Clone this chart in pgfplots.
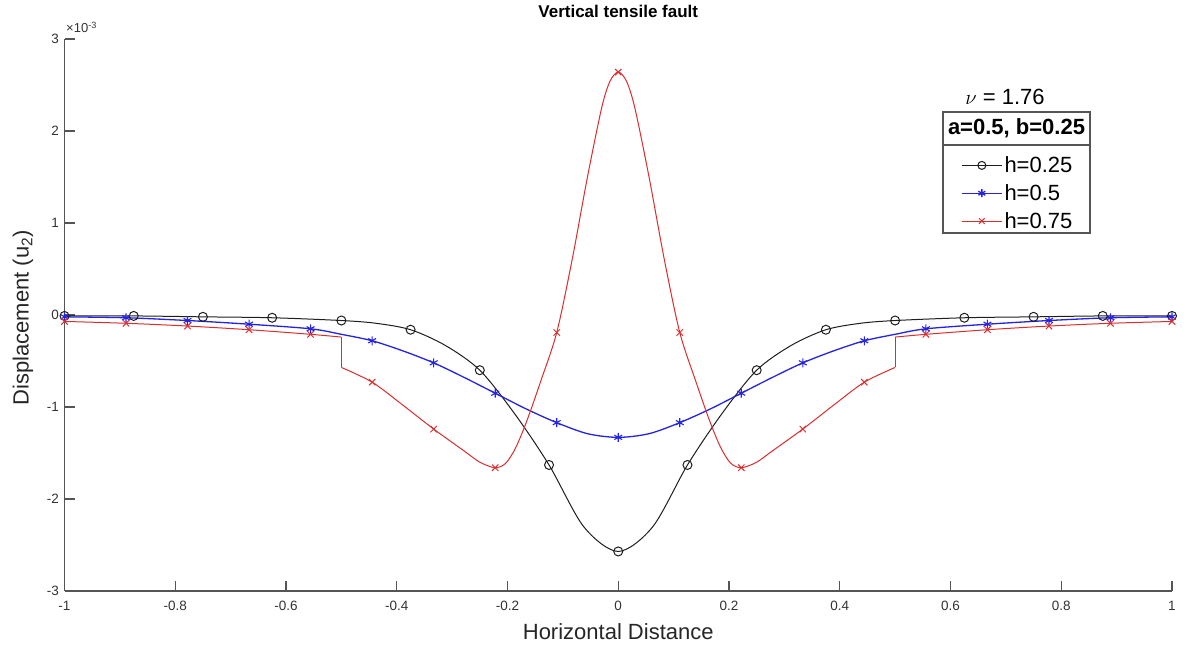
\documentclass[border=0pt]{standalone}
\usepackage{pgfplots}
\pgfplotsset{compat=1.18}
\usepackage{fontspec}
\setmainfont{Liberation Sans}
\definecolor{mred}{RGB}{218,45,45}
\definecolor{mblue}{RGB}{35,35,225}
\definecolor{axgray}{RGB}{85,85,85}
\definecolor{mblack}{RGB}{30,30,30}

\begin{document}
\begin{tikzpicture}
\useasboundingbox (0,0) rectangle (1185pt,646pt);
\begin{axis}[
  at={(64.5pt,55pt)}, anchor=south west,
  scale only axis, width=1107.5pt, height=552pt,
  xmin=-1, xmax=1, ymin=-3, ymax=3,
  axis lines=left,
  axis line style={-, draw=axgray, line width=1.8pt},
  tick align=inside, major tick length=10pt,
  tick style={draw=axgray, line width=1.3pt},
  xtick={-1,-0.8,-0.6,-0.4,-0.2,0,0.2,0.4,0.6,0.8,1},
  xticklabels={-1,-0.8,-0.6,-0.4,-0.2,0,0.2,0.4,0.6,0.8,1},
  ytick={-3,-2,-1,0,1,2,3},
  yticklabels={-3,-2,-1,0,1,2,3},
  /pgf/number format/assume math mode=true,
  ticklabel style={font=\fontsize{13.5}{15}\selectfont, text=black!80},
  xticklabel style={yshift=-7pt},
  yticklabel style={xshift=-2pt},
  xlabel={Horizontal Distance},
  ylabel={Displacement (u\textsubscript{2})},
  x label style={at={(axis description cs:0.5,-0.0743)}, anchor=center, font=\fontsize{22}{24}\selectfont, text=black!85},
  y label style={at={(axis description cs:-0.0375,0.4946)}, anchor=center, font=\fontsize{22}{24}\selectfont, text=black!85},
  title={Vertical tensile fault},
  title style={at={(axis description cs:0.5,1.0399)}, anchor=center, font=\bfseries\fontsize{17}{18}\selectfont},
  legend image code/.code={\draw[mark repeat=2,mark phase=2,#1] plot coordinates {(0pt,0pt)(20pt,0pt)(40pt,0pt)};},
  legend style={draw=none, fill=none, at={(axis description cs:0.8095,0.7908)}, anchor=north west,
    font=\fontsize{22}{24}\selectfont, inner xsep=0pt, inner ysep=0pt, row sep=6.4pt,
    cells={anchor=west}},
]
\addlegendimage{mblack, line width=1pt, mark=o, mark size=4pt, mark options={line width=1pt}}
\addlegendentry{h=0.25}
\addlegendimage{mblue, line width=1.3pt, mark=asterisk, mark size=4pt}
\addlegendentry{h=0.5}
\addlegendimage{mred, line width=1pt, mark=x, mark size=4pt}
\addlegendentry{h=0.75}

% h = 0.25 (black)
\addplot[mblack, line width=1pt, smooth, forget plot] coordinates {
(-1,-0.01) (-0.875,-0.01) (-0.75,-0.02) (-0.625,-0.03) (-0.5,-0.06) (-0.4375,-0.09)
(-0.375,-0.16) (-0.3125,-0.33) (-0.25,-0.60) (-0.1875,-1.07) (-0.125,-1.63) (-0.0625,-2.30)
(0,-2.57)
(0.0625,-2.30) (0.125,-1.63) (0.1875,-1.07) (0.25,-0.60) (0.3125,-0.33) (0.375,-0.16)
(0.4375,-0.09) (0.5,-0.06) (0.625,-0.03) (0.75,-0.02) (0.875,-0.01) (1,-0.01)};
\addplot[mblack, only marks, mark=o, mark size=4.5pt, mark options={line width=1pt}, forget plot] coordinates {
(-1,-0.01) (-0.875,-0.01) (-0.75,-0.02) (-0.625,-0.03) (-0.5,-0.06) (-0.375,-0.16)
(-0.25,-0.60) (-0.125,-1.63) (0,-2.57) (0.125,-1.63) (0.25,-0.60) (0.375,-0.16)
(0.5,-0.06) (0.625,-0.03) (0.75,-0.02) (0.875,-0.01) (1,-0.01)};

% h = 0.5 (blue)
\addplot[mblue, line width=1.3pt, smooth, forget plot] coordinates {
(-1,-0.02) (-0.8889,-0.03) (-0.7778,-0.06) (-0.6667,-0.10) (-0.5556,-0.15) (-0.5,-0.21)
(-0.4444,-0.28) (-0.3889,-0.39) (-0.3333,-0.52) (-0.2778,-0.68) (-0.2222,-0.85)
(-0.1667,-1.02) (-0.1111,-1.17) (-0.0556,-1.29) (0,-1.33)
(0.0556,-1.29) (0.1111,-1.17) (0.1667,-1.02) (0.2222,-0.85) (0.2778,-0.68) (0.3333,-0.52)
(0.3889,-0.39) (0.4444,-0.28) (0.5,-0.21) (0.5556,-0.15) (0.6667,-0.10) (0.7778,-0.06)
(0.8889,-0.03) (1,-0.02)};
\addplot[mblue, only marks, mark=asterisk, mark size=4.5pt, mark options={line width=1.1pt}, forget plot] coordinates {
(-1,-0.02) (-0.8889,-0.03) (-0.7778,-0.06) (-0.6667,-0.10) (-0.5556,-0.15) (-0.4444,-0.28)
(-0.3333,-0.52) (-0.2222,-0.85) (-0.1111,-1.17) (0,-1.33) (0.1111,-1.17) (0.2222,-0.85)
(0.3333,-0.52) (0.4444,-0.28) (0.5556,-0.15) (0.6667,-0.10) (0.7778,-0.06) (0.8889,-0.03) (1,-0.02)};

% h = 0.75 (red)
\addplot[mred, line width=1pt, smooth, forget plot] coordinates {
(-1,-0.07) (-0.8889,-0.09) (-0.7778,-0.12) (-0.6667,-0.16) (-0.5556,-0.21) (-0.5,-0.24)};
\addplot[mred, line width=1pt, forget plot] coordinates {(-0.5,-0.24) (-0.5,-0.57)};
\addplot[mred, line width=1pt, smooth, forget plot] coordinates {
(-0.5,-0.57) (-0.4444,-0.73) (-0.3889,-0.98) (-0.3333,-1.24) (-0.2778,-1.48) (-0.25,-1.60)
(-0.2222,-1.66) (-0.203,-1.61) (-0.185,-1.44) (-0.165,-1.15) (-0.14,-0.72) (-0.1111,-0.19)
(-0.0833,0.60) (-0.0556,1.50) (-0.03,2.25) (-0.015,2.54) (0,2.64)
(0.015,2.54) (0.03,2.25) (0.0556,1.50) (0.0833,0.60) (0.1111,-0.19) (0.14,-0.72)
(0.165,-1.15) (0.185,-1.44) (0.203,-1.61) (0.2222,-1.66) (0.25,-1.60) (0.2778,-1.48)
(0.3333,-1.24) (0.3889,-0.98) (0.4444,-0.73) (0.5,-0.57)};
\addplot[mred, line width=1pt, forget plot] coordinates {(0.5,-0.57) (0.5,-0.24)};
\addplot[mred, line width=1pt, smooth, forget plot] coordinates {
(0.5,-0.24) (0.5556,-0.21) (0.6667,-0.16) (0.7778,-0.12) (0.8889,-0.09) (1,-0.07)};
\addplot[mred, only marks, mark=x, mark size=4.5pt, mark options={line width=1pt}, forget plot] coordinates {
(-1,-0.07) (-0.8889,-0.09) (-0.7778,-0.12) (-0.6667,-0.16) (-0.5556,-0.21) (-0.4444,-0.73)
(-0.3333,-1.24) (-0.2222,-1.66) (-0.1111,-0.19) (0,2.64) (0.1111,-0.19) (0.2222,-1.66)
(0.3333,-1.24) (0.4444,-0.73) (0.5556,-0.21) (0.6667,-0.16) (0.7778,-0.12) (0.8889,-0.09) (1,-0.07)};
\end{axis}

% scale factor label
\node[anchor=base west, font=\fontsize{13}{14}\selectfont, text=black!80, inner sep=0pt] at (66pt,613pt) {×10\textsuperscript{-3}};

% legend title and frames
\draw[axgray, line width=1.5pt] (943pt,413pt) rectangle (1090pt,501pt);
\draw[axgray, line width=1.5pt, fill=white] (943pt,501pt) rectangle (1090pt,534pt);
\node[font=\bfseries\fontsize{22}{24}\selectfont, anchor=center] at (1016.5pt,517.5pt) {a=0.5, b=0.25};
\node[font=\fontsize{22}{24}\selectfont, anchor=center] at (1005pt,549pt) {$\nu$ = 1.76};
\end{tikzpicture}
\end{document}
